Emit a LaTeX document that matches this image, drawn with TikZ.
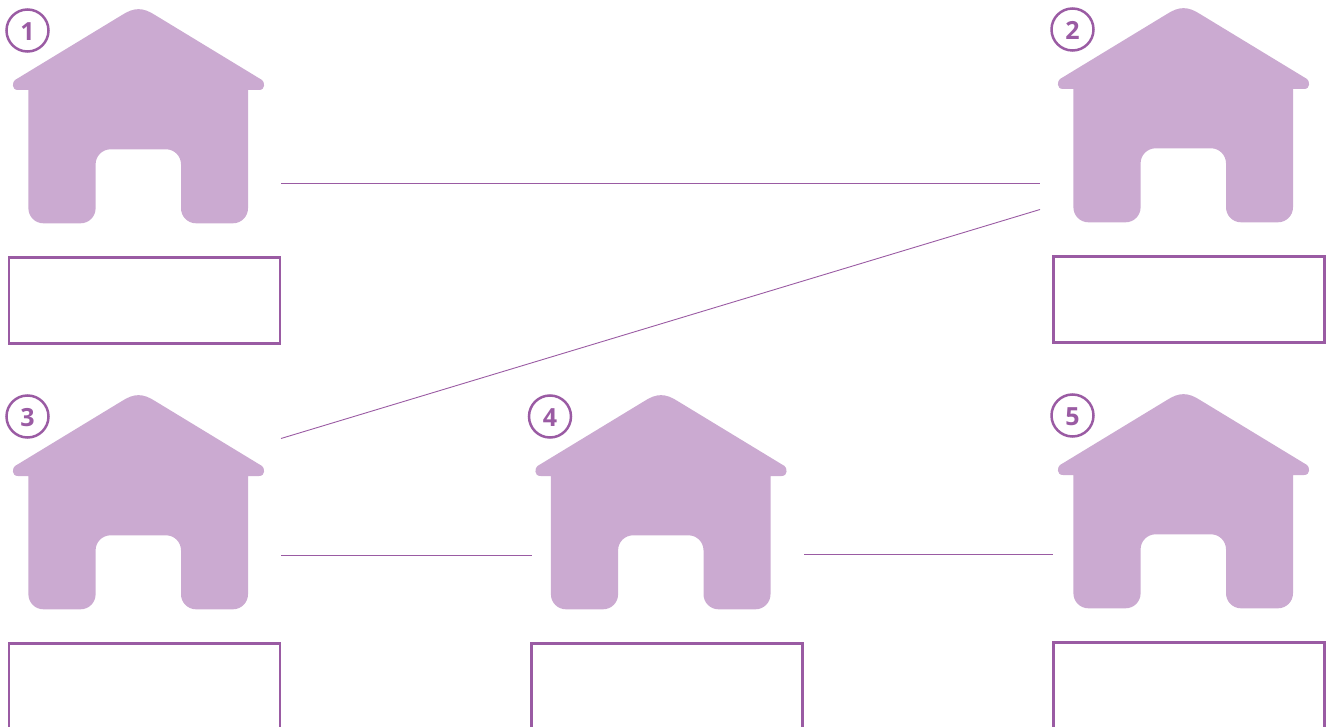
\documentclass[tikz,border=0pt]{standalone}
\usepackage{fontspec}
\setmainfont{Open Sans}
\definecolor{housefill}{HTML}{CBAAD1}
\definecolor{plum}{HTML}{9A5BA3}
\tikzset{
  house/.pic={
    \fill[housefill] (122,15) .. controls (134,7.2) and (143,7.2) .. (155,15)
      -- (262,80) .. controls (264.5,81.5) and (266,90) .. (259,90)
      -- (248,90) [rounded corners=15pt] -- (248,223.3) -- (181,223.3)
      -- (181,149.3) -- (95.6,149.3) -- (95.6,223.3) -- (28.4,223.3)
      [sharp corners] -- (28.4,90) -- (18,90)
      .. controls (11,90) and (12.5,81.5) .. (15,80) -- cycle;
  },
  badge/.style={circle, draw=plum, line width=2.5pt, minimum size=42pt, inner sep=0pt,
    text=plum, text height=20pt, text depth=0pt, font=\fontsize{25}{25}\selectfont\bfseries},
  slotbox/.style={draw=plum, line width=2.9pt, minimum width=271pt, minimum height=86pt,
    inner sep=0pt, outer sep=0pt},
  link/.style={draw=plum, line width=0.9pt}
}
\begin{document}
\begin{tikzpicture}[x=1pt, y=-1pt]
  \useasboundingbox (0,0) rectangle (1334,727);
  % houses
  \pic (house1) at (0,0) {house};
  \pic (house2) at (1045,-1) {house};
  \pic (house3) at (0,386) {house};
  \pic (house4) at (522.5,386) {house};
  \pic (house5) at (1045,385) {house};
  % numbers
  \node[badge] (num1) at (27.5,30.5) {1};
  \node[badge] (num2) at (1072.5,29.5) {2};
  \node[badge] (num3) at (27.5,416.5) {3};
  \node[badge] (num4) at (550,416.5) {4};
  \node[badge] (num5) at (1072.5,415.5) {5};
  % empty boxes
  \node[slotbox] (box1) at (144.5,300.5) {};
  \node[slotbox] (box2) at (1189,299.5) {};
  \node[slotbox] (box3) at (144.5,686.5) {};
  \node[slotbox] (box4) at (667,686.5) {};
  \node[slotbox] (box5) at (1189,685.5) {};
  % free line ends
  \coordinate (a1) at (281,183.5);
  \coordinate (a2) at (1040,183.5);
  \coordinate (b3) at (281,438.5);
  \coordinate (b2) at (1040,209.5);
  \coordinate (c3) at (281,555.5);
  \coordinate (c4) at (532,555.5);
  \coordinate (d4) at (804,554.5);
  \coordinate (d5) at (1053,554.5);
  \draw[link] (a1) -- (a2);
  \draw[link] (b3) -- (b2);
  \draw[link] (c3) -- (c4);
  \draw[link] (d4) -- (d5);
\end{tikzpicture}
\end{document}
